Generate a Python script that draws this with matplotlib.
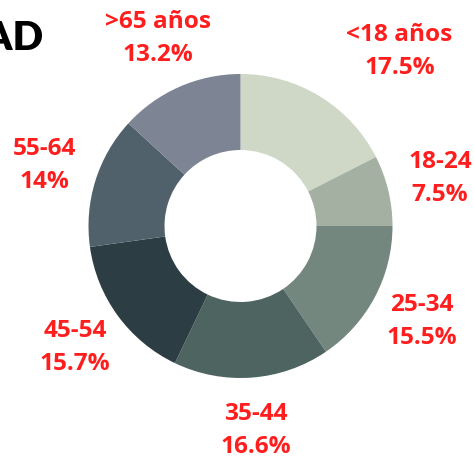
import matplotlib
matplotlib.use("Agg")
import matplotlib.pyplot as plt
import numpy as np

categories = ["<18 años", "18-24", "25-34", "35-44", "45-54", "55-64", ">65 años"]
values = [17.5, 7.5, 15.5, 16.6, 15.7, 14.0, 13.2]
value_labels = ["17.5%", "7.5%", "15.5%", "16.6%", "15.7%", "14%", "13.2%"]
colors = ["#CFD8C7", "#A3B0A2", "#73877F", "#4E6460", "#2C3E43", "#51616B", "#7D8594"]

W, H = 474, 459
fig = plt.figure(figsize=(W / 100, H / 100), dpi=100)
ax = fig.add_axes([0, 0, 1, 1])

cx, cy, R = 240.5, H - 226, 152
ax.pie(values, colors=colors, startangle=90, counterclock=False,
       center=(cx, cy), radius=R, frame=True,
       wedgeprops=dict(width=R * 0.5, linewidth=0))
ax.set_xlim(0, W)
ax.set_ylim(0, H)
ax.axis("off")

total = sum(values)
cum = 0
label_r = 205
extra_dx = {0: 52}
for i, (c, v, vl) in enumerate(zip(categories, values, value_labels)):
    mid = 90 - (cum + v / 2) / total * 360
    cum += v
    x = cx + label_r * np.cos(np.radians(mid)) + extra_dx.get(i, 0)
    y = cy + label_r * np.sin(np.radians(mid))
    ax.text(x, y, f"{c}\n{vl}", ha="center", va="center", color="#FF1E1E",
            fontsize=17.6, fontweight="bold", family="Open Sans", linespacing=1.5)

ax.text(43, 421, "EDAD", ha="right", va="center", color="black",
        fontsize=29, fontweight="heavy", family="Lato")

fig.savefig("out.png", dpi=100)
